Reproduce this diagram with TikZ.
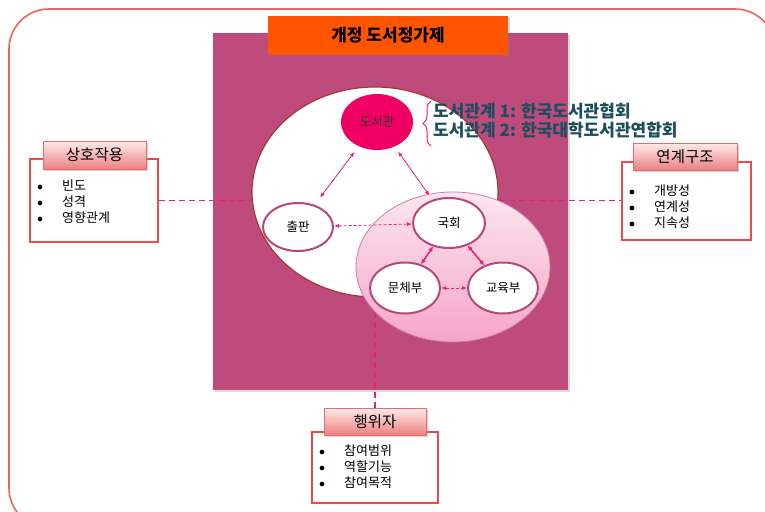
\documentclass[tikz,border=0pt]{standalone}
\usepackage{fontspec}
\setmainfont{Noto Sans CJK KR}
\usepackage{tikz}
\usetikzlibrary{shapes.geometric}
\usetikzlibrary{arrows.meta}
\usetikzlibrary{decorations.pathreplacing}
\usetikzlibrary{shadows}
\definecolor{framered}{HTML}{F2625C}
\definecolor{plum}{HTML}{BE4B7B}
\definecolor{flame}{HTML}{FF5500}
\definecolor{rose}{HTML}{F00062}
\definecolor{linkpink}{HTML}{E8207A}
\definecolor{ringred}{HTML}{A8382F}
\definecolor{nodering}{HTML}{B5477A}
\definecolor{deepteal}{HTML}{1D4E5E}
\definecolor{boxred}{HTML}{F04848}
\definecolor{tagred}{HTML}{E86A6A}
\definecolor{paleblush}{HTML}{FCE6EF}
\definecolor{blush}{HTML}{F5A5C6}
\tikzstyle{actor}=[draw=nodering, line width=2pt, fill=white, ellipse, inner sep=0pt, minimum width=70pt, minimum height=48pt, font=\fontsize{12.5}{14}\selectfont]
\tikzstyle{link}=[linkpink, line width=0.8pt, {Latex[length=5pt,width=4pt]}-{Latex[length=5pt,width=4pt]}]
\tikzstyle{dlink}=[link, dash pattern=on 3pt off 2pt]
\tikzstyle{blink}=[link, line width=1.6pt, {Latex[length=5pt,width=5pt]}-{Latex[length=5pt,width=5pt]}]
\tikzstyle{guide}=[linkpink, line width=1.2pt, dash pattern=on 6pt off 4pt]
\tikzstyle{headbox}=[draw=tagred, line width=1pt, top color=red!8, bottom color=tagred!85, inner sep=0pt, minimum width=103pt, minimum height=28pt, font=\fontsize{15.5}{17}\selectfont, drop shadow={opacity=0.35, shadow xshift=1.5pt, shadow yshift=-1.5pt}]
\tikzstyle{listbox}=[draw=boxred, line width=2pt, fill=white, inner sep=0pt, minimum width=128pt, minimum height=82pt]
\tikzstyle{items}=[anchor=north west, align=left, inner sep=0pt, font=\fontsize{13}{16}\selectfont]

\begin{document}
\begin{tikzpicture}[x=1pt, y=-1pt]
    \useasboundingbox (0,0) rectangle (765,511);
    \draw[framered, line width=1.6pt, rounded corners=40pt, fill=white] (9,9) rectangle (775,528);
    \node[fill=plum, minimum width=355pt, minimum height=357pt, inner sep=0pt, drop shadow={opacity=0.3, shadow xshift=2pt, shadow yshift=-2pt}] (stage) at (390.5,211.5) {};
    \node[fill=flame, minimum width=240pt, minimum height=39pt, inner sep=0pt, font=\fontsize{17}{19}\selectfont\bfseries, drop shadow={opacity=0.3, shadow xshift=1.5pt, shadow yshift=-1.5pt}] (title) at (388,35.5) {개정 도서정가제};

    \node[listbox, minimum height=83pt] (mutual) at (94,200.5) {};
    \node[headbox] (mutualhead) at (94.5,155) {상호작용};
    \node[items] (mutuallist) at (37,180) {\makebox[25pt][l]{$\bullet$}빈도\\\makebox[25pt][l]{$\bullet$}성격\\\makebox[25pt][l]{$\bullet$}영향관계};

    \node[listbox, minimum width=129pt, minimum height=78pt] (link) at (686.5,200.5) {};
    \node[headbox, minimum width=104pt, minimum height=27pt] (linkhead) at (685,156.5) {연계구조};
    \node[items] (linklist) at (629,185) {\makebox[25pt][l]{$\bullet$}개방성\\\makebox[25pt][l]{$\bullet$}연계성\\\makebox[25pt][l]{$\bullet$}지속성};

    \node[listbox, minimum width=126pt, minimum height=71pt] (actor) at (375,467.5) {};
    \node[headbox, minimum width=102pt, minimum height=27pt] (actorhead) at (375,421.5) {행위자};
    \node[items] (actorlist) at (319,444) {\makebox[25pt][l]{$\bullet$}참여범위\\\makebox[25pt][l]{$\bullet$}역할기능\\\makebox[25pt][l]{$\bullet$}참여목적};

    \coordinate (cross) at (375,200);
    \draw[guide] (mutual.east) -- (link.west);
    \draw[guide] (actorhead.north) -- (cross);

    \node[draw=ringred, line width=1.2pt, fill=white, ellipse, inner sep=0pt, minimum width=246pt, minimum height=210pt] (field) at (375,192) {};
    \node[draw=nodering!70, line width=0.8pt, top color=paleblush, bottom color=blush, ellipse, inner sep=0pt, minimum width=194pt, minimum height=150pt] (gov) at (453,267) {};

    \node[fill=rose, ellipse, inner sep=0pt, minimum width=72pt, minimum height=56pt, font=\fontsize{12.5}{14}\selectfont, text=black!80] (lib) at (377,122) {도서관};
    \node[actor] (pub) at (298,227) {출판};
    \node[actor, minimum width=72pt, minimum height=50pt] (assembly) at (449,223) {국회};
    \node[actor, minimum height=51pt] (culture) at (405,288) {문체부};
    \node[actor, minimum height=51pt] (edu) at (503,288) {교육부};

    \draw[link, shorten <=7pt, shorten >=9pt] (lib) -- (pub);
    \draw[link, shorten <=6pt, shorten >=5pt] (lib) -- (assembly);
    \draw[dlink] (pub) -- (assembly);
    \draw[blink] (assembly) -- (culture);
    \draw[blink] (assembly) -- (edu);
    \draw[dlink] (culture) -- (edu);

    \draw[linkpink, line width=1pt, decorate, decoration={brace, amplitude=8pt}] (431,146) -- (431,101);
    \node[anchor=west, align=left, inner sep=0pt, text=deepteal, font=\fontsize{17}{19}\selectfont\bfseries] (relations) at (433,121) {도서관계 1: 한국도서관협회\\도서관계 2: 한국대학도서관연합회};
\end{tikzpicture}
\end{document}
